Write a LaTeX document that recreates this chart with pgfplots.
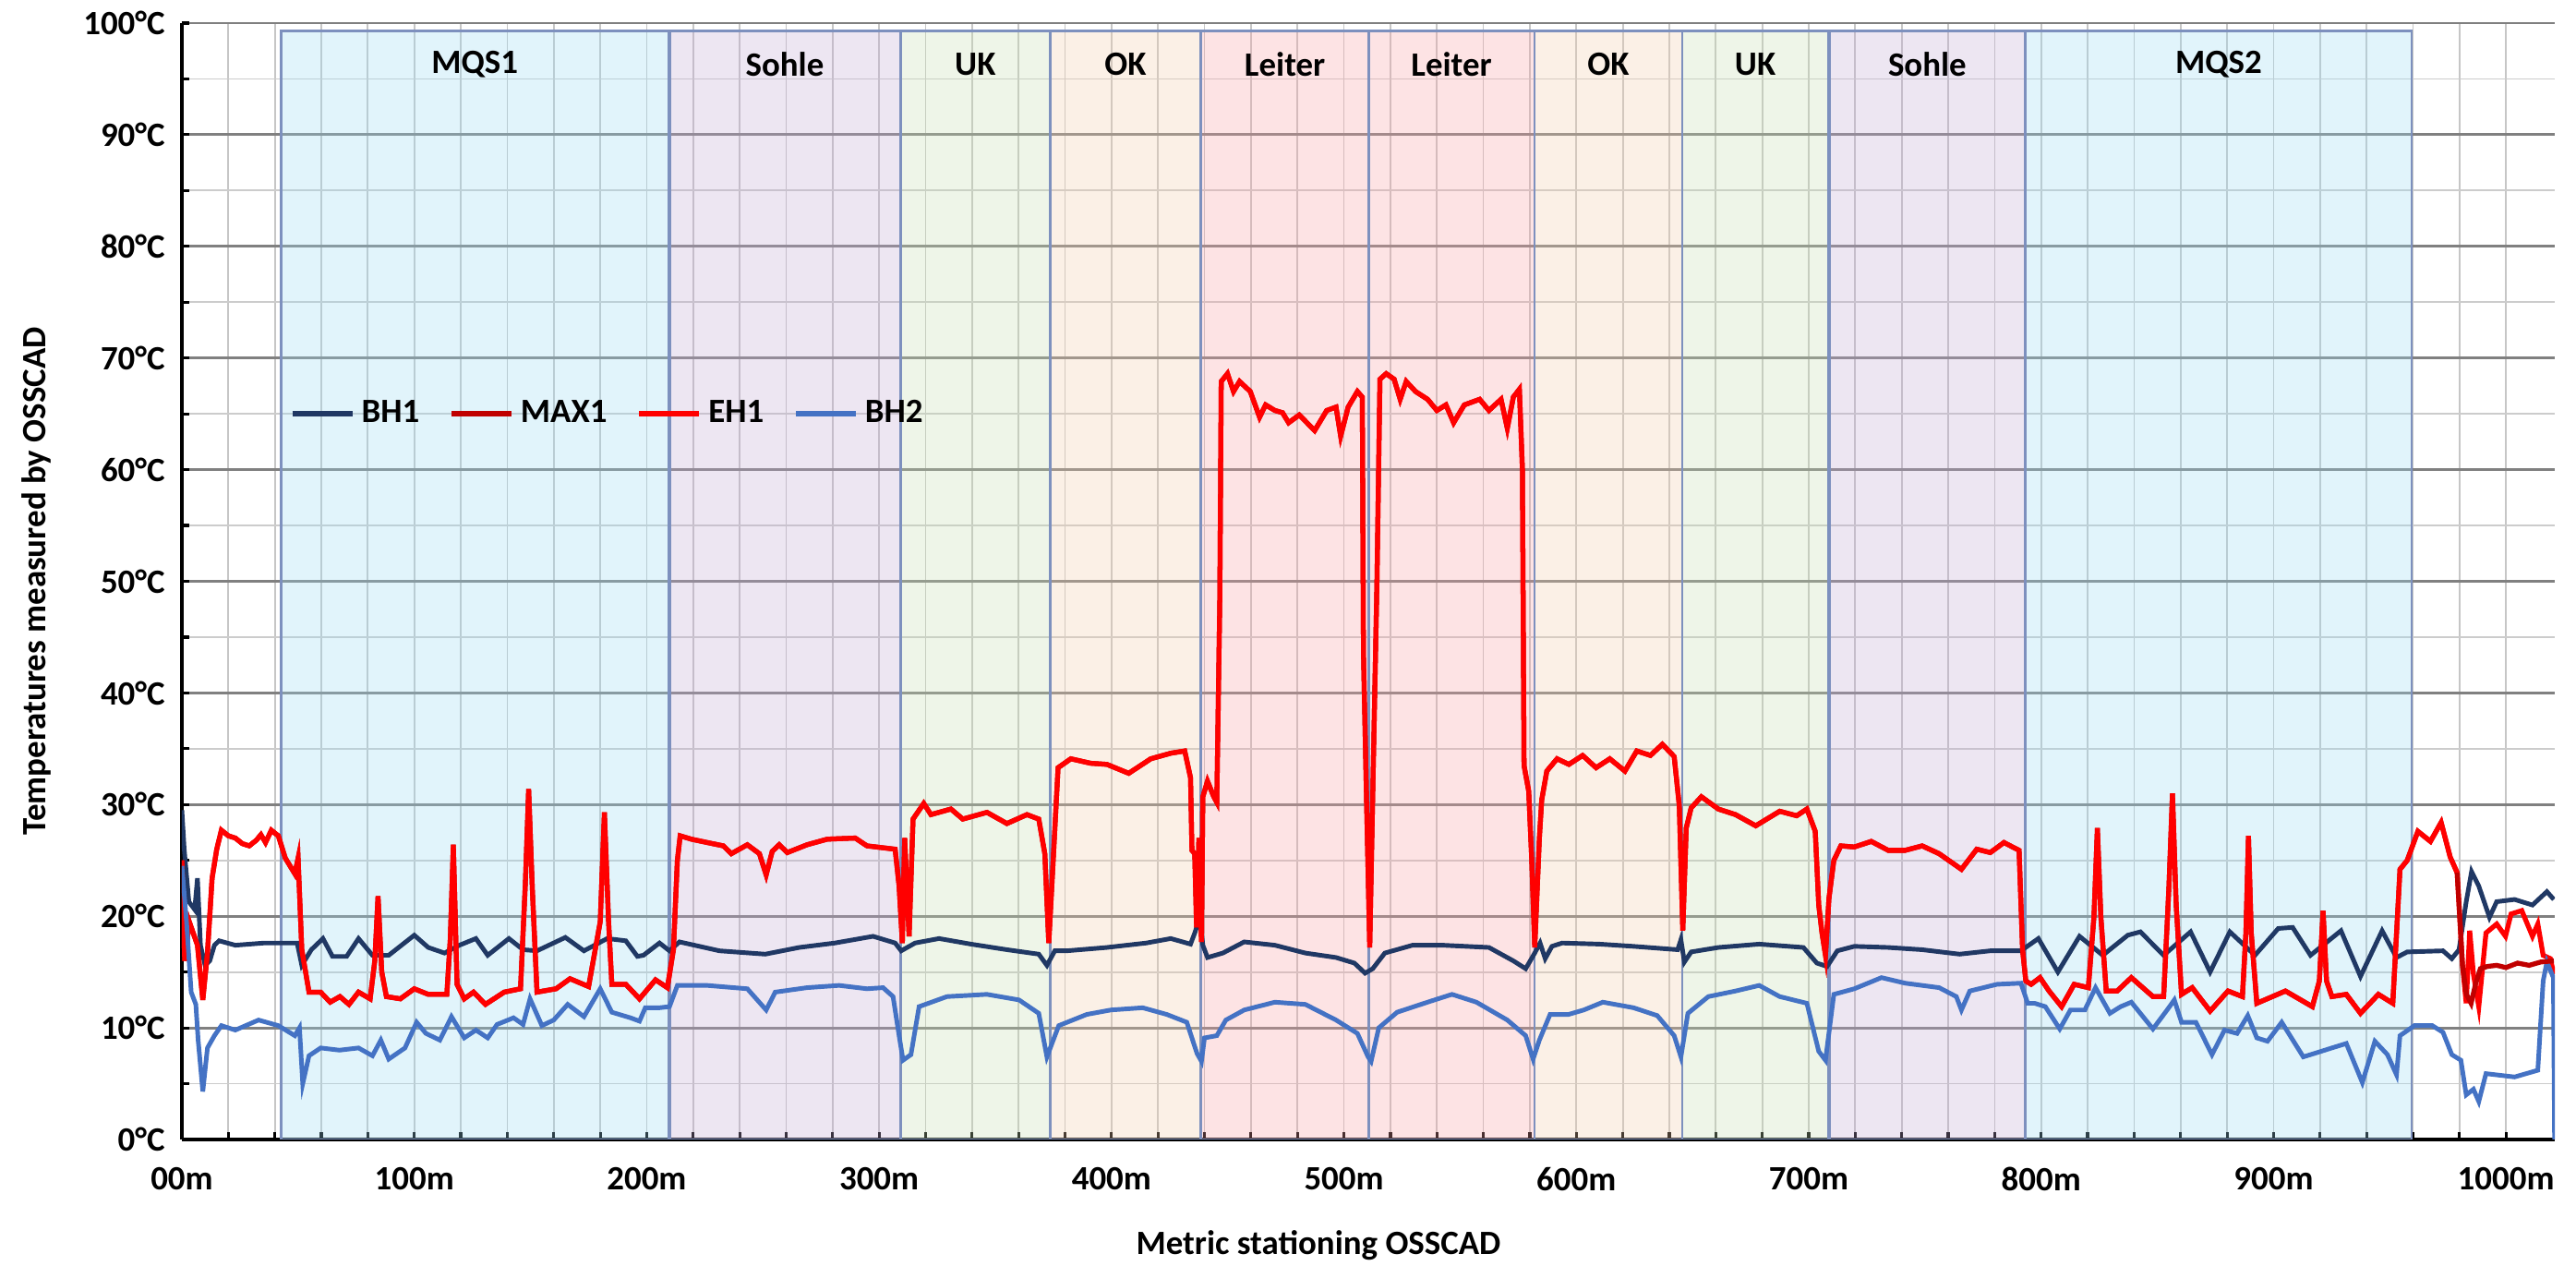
\documentclass[border=0pt]{standalone}
\usepackage{pgfplots}
\pgfplotsset{compat=1.18}
\usepackage{pgfplotstable}
\usepackage{fontspec}
\setmainfont{Carlito}

\definecolor{bhone}{HTML}{203864}
\definecolor{maxone}{HTML}{C00000}
\definecolor{ehone}{HTML}{FF0000}
\definecolor{bhtwo}{HTML}{4472C4}
\definecolor{mqs}{HTML}{9CDAF2}
\definecolor{sohle}{HTML}{C3ABD4}
\definecolor{uk}{HTML}{C6DEB2}
\definecolor{ok}{HTML}{F2CDAC}
\definecolor{leiter}{HTML}{F8A2A5}
\definecolor{regborder}{HTML}{7D90BE}

% BH1 trace
\pgfplotstableread{
x y
0 29.5
1 26
3 21.3
5.5 20.6
6.7 23.4
8 17.4
10 15.6
12 16
14 17.4
16 17.8
23 17.4
35.4 17.6
49.6 17.6
51.6 15.6
55.7 17
60.7 18
64.8 16.4
70.9 16.4
76 18
82 16.5
89 16.5
100 18.3
106 17.2
113 16.7
119.4 17.4
126.5 18
131.6 16.5
140.7 18
146.8 17
152.8 16.9
165 18.1
173 16.9
183 18
191 17.8
196 16.4
198.6 16.5
205.5 17.6
209.8 16.9
214.1 17.7
231.3 16.9
251 16.6
265.6 17.2
281 17.6
297.4 18.2
306.9 17.6
309.5 16.9
315.5 17.6
325.8 18
339.5 17.5
355 17
368.7 16.6
372.2 15.6
375.6 16.9
380.8 16.9
398 17.2
415 17.6
425.5 18
434 17.5
436 18.6
438 20
439.3 17.4
441.3 16.3
447.9 16.7
457.1 17.7
470.3 17.4
483.4 16.7
496.6 16.3
504.5 15.8
509.1 14.9
512.4 15.3
517.6 16.7
529.5 17.4
542.6 17.4
562.4 17.2
572.9 16
578.2 15.3
582.1 16.7
584.4 17.6
586.6 16.2
589.5 17.3
593.9 17.6
610 17.5
624.6 17.3
643.6 17
645 17.9
646.5 15.9
649.4 16.8
661.1 17.2
678.7 17.5
697.7 17.2
703.5 15.8
707.9 15.5
712.3 16.9
719.6 17.3
734.2 17.2
748.8 17
764.9 16.6
778.1 16.9
791.3 16.9
798.8 18
807.2 15
816.5 18.2
826.5 16.5
837.3 18.3
842.7 18.6
852.7 16.5
864.3 18.6
872.7 15
881.2 18.6
892 16.5
902 18.9
908.2 19
915.9 16.5
929 18.7
937.4 14.6
946.7 18.7
952.9 16.3
957.5 16.8
972.9 16.9
976.7 16.2
979.8 17
982.9 21.3
985.2 24
988.3 22.7
992.9 19.9
996 21.3
1003.7 21.5
1011.4 21
1017.6 22.2
1020.6 21.5
}\bhonetab

% EH1 trace
\pgfplotstableread{
x y
0 25
1.2 16
3.2 19.5
6.7 17.4
9 12.5
11 16.7
13 23.4
15 26
17 27.7
20 27.2
23 27
26 26.5
29 26.3
32 26.8
34 27.3
36 26.6
38.5 27.7
41.5 27.2
44.5 25.2
48.6 23.8
50 25.2
51.6 17
54.7 13.2
59.7 13.2
63.8 12.3
68 12.8
71.9 12.1
76 13.2
81 12.6
83 16
84.4 21.8
86 15
88 12.8
94 12.6
100 13.5
106 13
114 13
115.5 18
116.8 26.4
118.4 13.9
121.5 12.6
125.5 13.2
130.6 12.1
138.7 13.2
145.7 13.5
147.8 23
149.2 31.4
150.8 22.4
152.8 13.2
161 13.5
167 14.4
175 13.7
180 19.5
181.8 29.3
183.6 19.5
185 13.9
191 13.9
196.9 12.6
203.8 14.3
208.9 13.6
211.5 17
213.2 25
214.4 27.2
219.2 26.9
226 26.6
233 26.3
236.4 25.6
243.3 26.4
248.5 25.6
251.4 23.7
254 25.8
257 26.4
260.5 25.7
269 26.4
277.7 26.9
289.7 27
294.8 26.3
306.9 26
308.6 22.7
310 17.6
311 27
312.9 18.2
314.6 28.7
319.2 30.1
322.3 29.1
330.9 29.6
336 28.7
346.4 29.3
355 28.3
363.6 29.1
368.7 28.7
371.3 25.6
373 17.6
374.7 24.2
377 33.3
382.5 34.1
391 33.7
398 33.6
407.4 32.8
416.9 34.1
425.5 34.6
431.5 34.8
434 32.4
434.6 25.9
435.8 25.6
436.6 19
437.6 27
438.7 17.7
439.3 30.7
441.3 32.1
444 30.7
445.3 30.2
446.6 48.4
447.2 67.9
449.9 68.6
452.5 67
455.1 67.9
459.7 67
463.7 64.7
466.3 65.8
470.3 65.3
473.6 65.1
476.2 64.2
480.8 64.9
487.4 63.5
492.6 65.3
496.6 65.6
498.6 63
501.8 65.6
505.8 67
507.9 66.5
508.4 43.7
509.7 30.7
511.1 17.2
512.6 33
514.2 49.8
515.5 68.1
518.2 68.6
521.6 68.1
524.2 66.3
526.8 67.9
530.8 67
536 66.3
540 65.3
543.9 65.8
547.2 64.2
551.8 65.8
558.4 66.3
562.4 65.3
567.6 66.3
570.3 63.7
572.9 66.5
575.5 67.2
576.8 60
577.5 33.5
579.5 31.2
580.8 25.1
582.1 17.2
584.1 27
585.1 30.4
587.3 33
591.7 34.1
596.8 33.6
602.7 34.4
608.5 33.3
614.4 34.1
620.9 33
626 34.8
631.9 34.4
637 35.4
642.1 34.3
644.3 29.9
645.8 18.7
647.3 27.9
649.4 29.7
653.8 30.7
661.1 29.6
668.5 29.1
677.2 28.1
687.5 29.4
694.8 29
699.2 29.6
702.8 27.6
704.3 21
705.7 18.5
707.2 16.5
708.7 21.6
710.8 25
713.8 26.3
719.6 26.2
726.9 26.7
734.2 25.9
741.5 25.9
748.8 26.3
756.1 25.6
765.7 24.2
772.3 26
778.1 25.7
784 26.6
790.5 25.9
792 17
793.4 14.2
795.7 13.9
799.5 14.5
803.4 13.3
808.8 11.9
814.2 13.9
820.3 13.6
822.7 19.9
824.2 27.9
825.7 19.9
828 13.3
832.7 13.3
838.8 14.5
848.1 12.8
852.7 12.8
855 22.7
856.5 31
858.1 21
860.4 13
865 13.6
872.7 11.5
880.4 13.3
886.6 12.8
888.1 18.5
889.2 27.2
890.4 18.5
892.8 12.2
905.1 13.3
916.7 11.9
919.7 14.2
921.3 20.5
922.8 14.2
925.1 12.8
931.3 13
937.4 11.3
945.1 13
951.3 12.2
954.4 24.2
957.5 25
962.1 27.6
967.5 26.7
972.1 28.4
976 25.3
979 23.9
981.3 15.6
982.9 12.2
984.4 18.7
986 14.8
988.3 11.9
991.4 18.5
996 19.3
999.8 18.2
1002.2 20.2
1006.8 20.5
1011.4 18.2
1013.7 19.3
1016 16.5
1019.1 16.2
1020.6 14.8
}\ehonetab

% BH2 trace
\pgfplotstableread{
x y
0 24.5
2 19.5
4 13.2
6 12.1
7 8.9
9 4.3
11 8.2
14 9.3
17 10.2
23 9.8
33 10.7
41.5 10.2
48.6 9.3
50.6 10
52 5
54.7 7.5
59.7 8.2
67.8 8
76 8.2
82 7.5
85.6 8.9
89 7.2
96 8.2
101 10.5
105 9.5
111 8.9
116 11
121.5 9.1
126.5 9.8
131.6 9.1
135.6 10.3
142.7 10.9
146.8 10.3
149.8 12.6
154.9 10.2
160 10.7
166 12.1
173 11
180 13.5
185 11.4
193 10.9
196.9 10.6
199.4 11.8
205.5 11.8
209.8 11.9
213.2 13.8
226 13.8
243.3 13.5
251.4 11.6
255.3 13.2
269 13.6
282.8 13.8
294.8 13.5
301.7 13.6
306 12.8
308.6 9.3
310.3 7.1
313.7 7.6
317.2 11.9
329.2 12.8
346.4 13
360.2 12.5
368.7 11.3
372.2 7.4
377.3 10.2
389.3 11.2
399.7 11.6
413.4 11.8
423.8 11.2
432.4 10.5
434.9 8.9
436.8 7.7
438.7 7
440 9.1
445.3 9.3
449.2 10.7
457.1 11.6
470.3 12.3
483.4 12.1
496.6 10.7
505.8 9.5
510.4 7.4
511.7 7
515 10
522.9 11.4
536 12.3
546.5 13
557 12.3
570.3 10.7
578.2 9.3
581.4 7.2
584.1 8.9
588.7 11.2
596.6 11.2
603.2 11.6
611.4 12.3
624.6 11.8
634.8 11.1
642.1 9.3
645 7.4
648 11.3
656.8 12.8
668.5 13.3
678.7 13.8
687.5 12.8
699.2 12.2
704.3 7.9
707.2 7.1
710.8 13
719.6 13.5
731.3 14.5
741.5 14
756.1 13.6
763.5 12.8
765.7 11.6
769.3 13.3
781 13.9
791.3 14
794.2 12.2
797.2 12.2
801.8 11.9
808 9.9
812.6 11.6
818.8 11.6
823.4 13.6
829.6 11.3
834.2 11.9
838.8 12.3
848.1 9.9
854.2 11.6
857.3 12.5
860.4 10.5
866.6 10.5
873.5 7.6
878.9 9.8
884.3 9.5
888.9 11.1
892.8 9.1
897.4 8.8
903.5 10.5
912.8 7.4
919 7.8
925.1 8.2
931.3 8.6
938.2 5.1
943.6 8.8
949 7.6
952.9 5.8
954.4 9.3
960.6 10.2
968.3 10.2
972.9 9.6
976.7 7.6
980.6 7.1
982.9 4
986 4.5
988.3 3.4
991.4 5.9
1003.7 5.6
1013.7 6.2
1016 14.2
1017.6 15.9
1020.4 14.5
1020.9 0
}\bhtwotab

\begin{document}
\begin{tikzpicture}[font=\bfseries\fontsize{10.5}{12}\selectfont]
\begin{axis}[
    name=ax,
    scale only axis,
    width=25.70cm, height=12.09cm,
    xmin=0, xmax=1021, ymin=0, ymax=100,
    axis x line*=bottom, axis y line*=left,
    axis line style={black, line width=1.3pt},
    xtick={0,100,...,1000},
    xticklabels={00m,100m,200m,300m,400m,500m,600m,700m,800m,900m,1000m},
    minor x tick num=4,
    ytick={0,10,...,100},
    yticklabels={0°C,10°C,20°C,30°C,40°C,50°C,60°C,70°C,80°C,90°C,100°C},
    minor y tick num=1,
    tick align=inside,
    major tick length=0.08cm, minor tick length=0.08cm,
    tick style={black, line width=0.9pt},
    grid=both,
    major x grid style={gray!45, line width=0.5pt},
    minor x grid style={gray!45, line width=0.5pt},
    major y grid style={black!50, line width=0.8pt},
    minor y grid style={gray!40, line width=0.5pt},
    xticklabel style={yshift=-0.18cm},
    yticklabel style={xshift=-0.06cm},
    xlabel={Metric stationing OSSCAD},
    ylabel={Temperatures measured by OSSCAD},
    xlabel style={at={([xshift=-0.54cm]axis description cs:0.5,0)}, anchor=center, yshift=-1.15cm, inner sep=0pt},
    ylabel style={at={([xshift=-1.58cm]axis description cs:0,0.5)}, anchor=center, inner sep=0pt},
    legend style={at={(axis cs:42,65)}, anchor=west, draw=none, fill=none,
        legend columns=-1, /tikz/every even column/.append style={column sep=0.25cm}},
    legend image code/.code={\draw[#1, line width=1.6pt] (0cm,0cm) -- (0.65cm,0cm);},
]
% section bands
\addplot[draw=regborder, line width=0.8pt, fill=mqs, fill opacity=0.3, forget plot] coordinates {(42.8,99.3) (209.5,99.3)} \closedcycle;
\addplot[draw=regborder, line width=0.8pt, fill=sohle, fill opacity=0.3, forget plot] coordinates {(210,99.3) (309.2,99.3)} \closedcycle;
\addplot[draw=regborder, line width=0.8pt, fill=uk, fill opacity=0.3, forget plot] coordinates {(309.2,99.3) (373.5,99.3)} \closedcycle;
\addplot[draw=regborder, line width=0.8pt, fill=ok, fill opacity=0.3, forget plot] coordinates {(373.5,99.3) (438.5,99.3)} \closedcycle;
\addplot[draw=regborder, line width=0.8pt, fill=leiter, fill opacity=0.3, forget plot] coordinates {(438.5,99.3) (510.6,99.3)} \closedcycle;
\addplot[draw=regborder, line width=0.8pt, fill=leiter, fill opacity=0.3, forget plot] coordinates {(510.6,99.3) (582,99.3)} \closedcycle;
\addplot[draw=regborder, line width=0.8pt, fill=ok, fill opacity=0.3, forget plot] coordinates {(582,99.3) (645.6,99.3)} \closedcycle;
\addplot[draw=regborder, line width=0.8pt, fill=uk, fill opacity=0.3, forget plot] coordinates {(645.6,99.3) (708.5,99.3)} \closedcycle;
\addplot[draw=regborder, line width=0.8pt, fill=sohle, fill opacity=0.3, forget plot] coordinates {(709,99.3) (793.3,99.3)} \closedcycle;
\addplot[draw=regborder, line width=0.8pt, fill=mqs, fill opacity=0.3, forget plot] coordinates {(793.3,99.3) (959.4,99.3)} \closedcycle;

\node at (axis cs:126,96.3) {MQS1};
\node at (axis cs:259.4,96.3) {Sohle};
\node at (axis cs:341.4,96.3) {UK};
\node at (axis cs:406,96.3) {OK};
\node at (axis cs:474.6,96.3) {Leiter};
\node at (axis cs:546.3,96.3) {Leiter};
\node at (axis cs:613.8,96.3) {OK};
\node at (axis cs:677,96.3) {UK};
\node at (axis cs:751,96.3) {Sohle};
\node at (axis cs:876.4,96.3) {MQS2};

% measured traces
\addplot[bhone, line width=1.4pt, mark=none] table[x=x, y=y] {\bhonetab};
\addplot[maxone, line width=1.5pt, mark=none, restrict x to domain=0:980] table[x=x, y=y] {\ehonetab};
\addplot[ehone, line width=1.5pt, mark=none] table[x=x, y=y] {\ehonetab};
\addplot[bhtwo, line width=1.4pt, mark=none] table[x=x, y=y] {\bhtwotab};
\addplot[maxone, line width=1.5pt, mark=none, forget plot] coordinates {
(979,23.9) (981.3,15.6) (983,13) (985,12.2) (987,14) (989,15.3) (992,15.5) (996,15.6) (1000,15.4) (1005,15.8) (1010,15.6) (1015,15.9) (1020.6,16)};
\legend{BH1,MAX1,EH1,BH2}
\end{axis}
\path ([xshift=-1.97cm,yshift=-1.37cm]ax.south west) rectangle ([xshift=0.23cm,yshift=0.25cm]ax.north east);
\end{tikzpicture}
\end{document}
